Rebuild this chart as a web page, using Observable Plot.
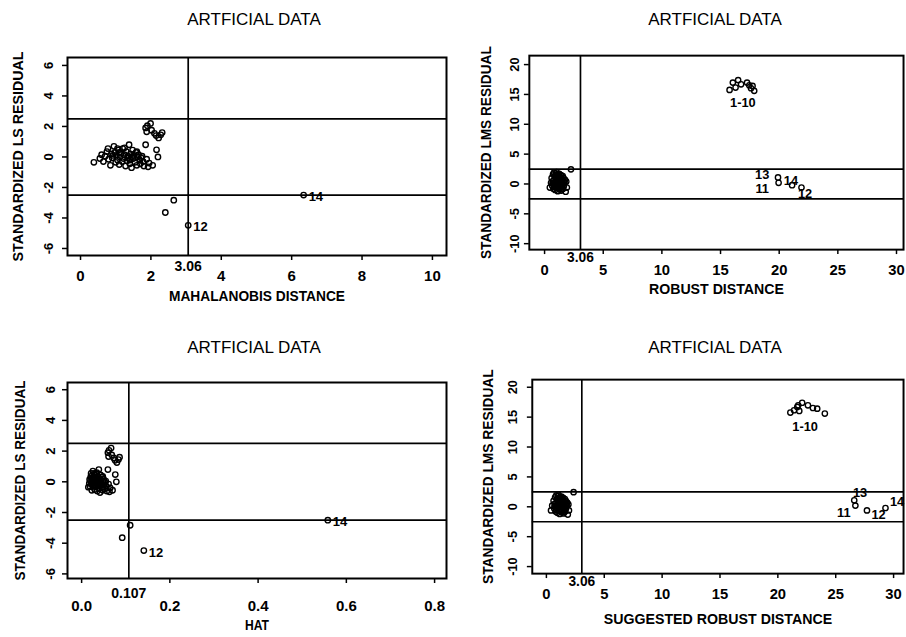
<!DOCTYPE html>
<html><head><meta charset="utf-8">
<script src="https://cdn.jsdelivr.net/npm/d3@7"></script>
<script src="https://cdn.jsdelivr.net/npm/@observablehq/plot@0.6"></script>
<style>
html,body{margin:0;padding:0;background:#fff;}
body{overflow:hidden;width:906px;height:637px;position:relative;}
.panel{position:absolute;}
.title{position:absolute;font-family:"Liberation Sans",Arial,sans-serif;font-size:17px;line-height:20px;color:#000;white-space:nowrap;transform:translateX(-50%);}
</style></head><body>
<script>
// ---- DATA (observations 1-10, 11-14, then the 61 regular points) ----
const mahalanobis = [1.85,1.90,1.99,1.88,2.02,2.10,2.15,2.22,2.28,2.32, 2.41,3.06,2.65,6.34,
  0.38,0.55,0.60,0.65,0.70,0.75,0.78,0.80,0.85,0.88,0.90,0.95,0.98,1.00,1.02,1.05,1.08,1.10,1.12,1.15,
  1.18,1.20,1.22,1.25,1.28,1.30,1.32,1.35,1.38,1.40,1.42,1.45,1.48,1.50,1.52,1.55,1.58,1.60,1.62,1.65,
  1.68,1.70,1.75,1.78,1.80,1.85,1.88,1.92,1.95,2.05,2.16,2.20,1.10,1.25,1.35,1.45,0.92,1.60,1.72,1.05,1.40];
const lsResidual = [1.90,2.05,2.20,1.65,1.75,1.55,1.40,1.25,1.45,1.60, -3.64,-4.48,-2.83,-2.50,
  -0.35,-0.10,0.15,-0.30,0.05,0.35,0.55,-0.15,-0.55,0.20,-0.05,0.70,0.30,-0.35,0.10,-0.20,0.45,-0.50,0.00,0.25,
  -0.30,0.55,-0.10,0.15,-0.60,0.35,-0.25,0.05,0.80,-0.45,0.20,-0.70,0.45,-0.10,0.10,-0.35,0.30,-0.55,0.00,0.15,
  -0.20,-0.45,0.05,-0.30,-0.60,0.80,-0.15,-0.65,-0.40,-0.55,0.47,0.00,0.30,0.60,-0.05,0.00,0.10,0.35,-0.05,0.55,-0.20];
const hat = [0.0596,0.0621,0.0668,0.0611,0.0684,0.0729,0.0758,0.0799,0.0835,0.0860, 0.092,0.141,0.110,0.558,
  0.0153,0.0174,0.0182,0.0190,0.0199,0.0209,0.0215,0.0219,0.0231,0.0238,0.0242,0.0255,0.0263,0.0268,0.0274,0.0282,0.0291,0.0297,0.0303,0.0312,
  0.0321,0.0328,0.0334,0.0344,0.0354,0.0361,0.0368,0.0379,0.0390,0.0398,0.0405,0.0417,0.0429,0.0437,0.0445,0.0458,0.0470,0.0479,0.0488,0.0501,
  0.0514,0.0524,0.0547,0.0561,0.0571,0.0596,0.0611,0.0631,0.0647,0.0701,0.0763,0.0787,0.0297,0.0344,0.0379,0.0417,0.0247,0.0479,0.0533,0.0282,0.0398];
const robustDist = [15.77,16.05,16.28,16.50,16.75,17.26,17.45,17.60,17.73,17.87, 19.95,21.90,19.90,21.10,
  0.45,0.55,0.60,0.65,0.70,0.72,0.75,0.78,0.80,0.82,0.85,0.88,0.90,0.92,0.95,0.98,1.00,1.02,1.05,1.08,
  1.10,1.12,1.15,1.18,1.20,1.22,1.25,1.28,1.30,1.32,1.35,1.38,1.40,1.42,1.45,1.48,1.50,1.52,1.55,1.58,
  1.60,1.62,1.65,1.70,1.75,1.80,1.85,1.90,0.68,0.85,1.00,1.15,1.25,1.35,1.45,1.55,0.95,1.10,1.30,1.65,2.25];
const suggestedDist = [21.08,21.76,21.40,22.10,21.68,22.60,23.03,21.85,23.40,24.06, 26.70,27.70,26.60,29.30,
  0.40,0.50,0.62,0.68,0.72,0.75,0.80,0.80,0.85,0.85,0.88,0.92,0.95,0.95,1.00,1.02,1.05,1.05,1.10,1.12,
  1.15,1.15,1.20,1.22,1.25,1.28,1.30,1.32,1.35,1.38,1.40,1.42,1.45,1.48,1.50,1.52,1.55,1.58,1.60,1.62,
  1.65,1.68,1.70,1.75,1.80,1.85,1.90,1.95,0.70,0.90,1.05,1.20,1.30,1.40,1.50,1.60,1.00,1.15,1.35,1.70,2.35];
const lmsResidual = [15.76,16.98,16.15,17.40,16.70,16.98,16.53,16.04,16.42,15.60, 0.20,-0.60,1.10,-0.20,
  -0.60,0.20,1.00,-0.30,0.50,1.60,-0.80,0.10,1.90,-0.50,0.70,1.30,-1.00,0.30,1.80,-0.20,0.90,2.00,-0.70,0.40,
  1.40,-1.20,0.00,1.10,-0.40,0.80,1.70,-0.90,0.20,1.20,-0.10,0.60,1.50,-1.10,0.30,0.90,-0.50,0.10,1.30,-0.80,
  0.50,1.00,-0.30,0.20,0.70,-1.30,0.40,-0.60,0.10,-0.20,0.50,1.40,-0.60,0.80,-0.90,0.00,1.10,1.60,-0.40,0.30,2.45];

const title = "ARTFICIAL DATA";
const residualCuts = [2.5, -2.5];
const ticksMD = [0,2,4,6,8,10];
const ticksLS = [-6,-4,-2,0,2,4,6];
const ticksHat = [0.0,0.2,0.4,0.6,0.8];
const ticksRD = [0,5,10,15,20,25,30];
const ticksLMS = [-10,-5,0,5,10,15,20];

// labels of special observations (text, x, y in data units)
const labels1 = [{t:"12", x:3.06, y:-4.48}, {t:"14", x:6.34, y:-2.50}];
const labels3 = [{t:"12", x:0.141, y:-4.48}, {t:"14", x:0.558, y:-2.50}];
const labels2 = [{t:"1-10", x:16.9, y:13.6}, {t:"13", x:18.55, y:1.6}, {t:"11", x:18.55, y:-0.8}, {t:"14", x:21.0, y:0.5}, {t:"12", x:22.2, y:-1.6}];
const labels4 = [{t:"1-10", x:22.36, y:13.4}, {t:"13", x:27.1, y:2.3}, {t:"11", x:25.7, y:-1.1}, {t:"12", x:28.7, y:-1.3}, {t:"14", x:30.3, y:0.9}];

const FONT = '"Liberation Sans",Arial,sans-serif';
const idx = d3.range(mahalanobis.length);

function panel(o) {
  const div = document.createElement("div");
  div.className = "panel";
  div.style.left = o.left + "px";
  div.style.top = o.top + "px";
  const chart = Plot.plot({
    width: o.width, height: o.height,
    marginLeft: o.m[0], marginRight: o.m[1], marginTop: o.m[2], marginBottom: o.m[3],
    style: {background: "transparent", overflow: "visible"},
    x: {domain: o.xDomain},
    y: {domain: o.yDomain},
    marks: [
      Plot.ruleY(residualCuts, {stroke: "black", strokeWidth: 1.7}),
      Plot.ruleX([o.cut], {stroke: "black", strokeWidth: 1.7}),
      Plot.dot(idx, {x: i => o.xs[i], y: i => o.ys[i], r: 2.7, stroke: "black", strokeWidth: 1.4, fill: "none"}),
      Plot.frame({stroke: "black", strokeWidth: 2}),
      Plot.axisX(o.xTicks, {tickSize: 5, fill: "none", label: null, strokeWidth: 1.5}),
      Plot.axisY(o.yTicks, {tickSize: 5, fill: "none", label: null, strokeWidth: 1.5}),
      Plot.text(o.xTicks, {x: d => d, frameAnchor: "bottom", dy: o.dyTick, text: o.fmt, fontFamily: FONT, fontWeight: "bold", fontSize: 15}),
      Plot.text(o.yTicks, {y: d => d, frameAnchor: "left", textAnchor: "middle", dx: o.dxTick, rotate: -90, text: d => String(d), fontFamily: FONT, fontWeight: "bold", fontSize: 13}),
      Plot.text([o.cutLabel], {x: () => o.cut, frameAnchor: "bottom", dy: o.dyCut, text: d => d, fontFamily: FONT, fontWeight: "bold", fontSize: 14}),
      Plot.text([o.xLabel], {frameAnchor: "bottom", dy: o.dyLabel, text: d => d, fontFamily: FONT, fontWeight: "bold", fontSize: 15}),
      Plot.text([o.yLabel], {frameAnchor: "left", textAnchor: "middle", dx: o.dxLabel, rotate: -90, text: d => d, fontFamily: FONT, fontWeight: "bold", fontSize: 15}),
      Plot.text(o.labels, {x: "x", y: "y", text: "t", textAnchor: o.labelAnchor, dx: o.labelDx, dy: o.labelDy, fontFamily: FONT, fontWeight: "bold", fontSize: 13})
    ]
  });
  // condense the axis titles to the reference's narrow lettering
  chart.querySelectorAll("text").forEach(t => {
    const s = t.textContent;
    if (s === o.xLabel) { t.setAttribute("textLength", o.xLen); t.setAttribute("lengthAdjust", "spacingAndGlyphs"); }
    if (s === o.yLabel) { t.setAttribute("textLength", o.yLen); t.setAttribute("lengthAdjust", "spacingAndGlyphs"); }
  });
  div.appendChild(chart);
  document.body.appendChild(div);
  const t = document.createElement("div");
  t.className = "title";
  t.textContent = title;
  t.style.left = o.titleX + "px";
  t.style.top = o.titleY + "px";
  document.body.appendChild(t);
}

panel({left: 0, top: 0, width: 453, height: 320, m: [67, 7, 57, 65],
  xDomain: [-0.37, 10.4], yDomain: [-6.46, 6.52], xTicks: ticksMD, yTicks: ticksLS, fmt: d => String(d),
  xs: mahalanobis, ys: lsResidual, cut: 3.06, cutLabel: "3.06",
  xLabel: "MAHALANOBIS DISTANCE", yLabel: "STANDARDIZED LS RESIDUAL", xLen: 176, yLen: 210,
  dyTick: 25, dyCut: 15, dyLabel: 45, dxTick: -19, dxLabel: -49,
  labels: labels1, labelAnchor: "start", labelDx: 5, labelDy: 2, titleX: 254, titleY: 10});

panel({left: 453, top: 0, width: 460, height: 320, m: [77, 3, 56, 67],
  xDomain: [-1.3, 30.6], yDomain: [-11.0, 21.5], xTicks: ticksRD, yTicks: ticksLMS, fmt: d => String(d),
  xs: robustDist, ys: lmsResidual, cut: 3.06, cutLabel: "3.06",
  xLabel: "ROBUST DISTANCE", yLabel: "STANDARDIZED LMS RESIDUAL", xLen: 137, yLen: 216,
  dyTick: 26, dyCut: 13, dyLabel: 45, dxTick: -15, dxLabel: -44,
  labels: labels2, labelAnchor: "middle", labelDx: 0, labelDy: 0, titleX: 715, titleY: 10});

panel({left: 0, top: 324, width: 453, height: 313, m: [67, 7, 58, 59],
  xDomain: [-0.032, 0.827], yDomain: [-6.3, 6.47], xTicks: ticksHat, yTicks: ticksLS, fmt: d3.format(".1f"),
  xs: hat, ys: lsResidual, cut: 0.107, cutLabel: "0.107",
  xLabel: "HAT", yLabel: "STANDARDIZED LS RESIDUAL", xLen: 24, yLen: 200,
  dyTick: 32, dyCut: 19, dyLabel: 51, dxTick: -17, dxLabel: -47,
  labels: labels3, labelAnchor: "start", labelDx: 5, labelDy: 2, titleX: 254, titleY: 338});

panel({left: 453, top: 324, width: 460, height: 313, m: [80, 3, 56, 60],
  xDomain: [-1.22, 30.86], yDomain: [-11.18, 21.27], xTicks: ticksRD, yTicks: ticksLMS, fmt: d => String(d),
  xs: suggestedDist, ys: lmsResidual, cut: 3.06, cutLabel: "3.06",
  xLabel: "SUGGESTED ROBUST DISTANCE", yLabel: "STANDARDIZED LMS RESIDUAL", xLen: 232, yLen: 218,
  dyTick: 26, dyCut: 13, dyLabel: 51, dxTick: -20, dxLabel: -45,
  labels: labels4, labelAnchor: "middle", labelDx: 0, labelDy: 0, titleX: 715, titleY: 338});
</script>
</body></html>
